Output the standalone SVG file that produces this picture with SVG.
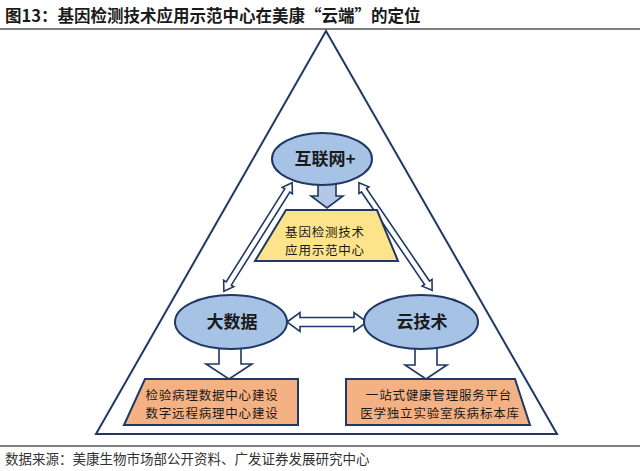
<svg xmlns="http://www.w3.org/2000/svg" width="640" height="471" viewBox="0 0 640 471">
<style>
.ln{stroke:#1f3864;stroke-width:2;fill:none}
.ell{fill:#a6c3e6;stroke:#1f3864;stroke-width:2}
.arw{fill:#ffffff;stroke:#1f3864;stroke-width:1.6;stroke-linejoin:miter}
.t{font-family:"Noto Sans CJK SC","Noto Sans CJK JP",sans-serif;fill:#1a1a1a}
.node{font-size:17px;font-weight:bold;text-anchor:middle}
.box{font-size:12.5px;text-anchor:middle;letter-spacing:0.8px}
</style>
<rect width="640" height="471" fill="#ffffff"/>
<g id="title">
<text class="t" x="5" y="22" font-size="16.5" font-weight="bold">图13：基因检测技术应用示范中心在美康“云端”的定位</text>
<line x1="0" y1="29" x2="640" y2="29" stroke="#7f7f7f" stroke-width="2"/>
</g>
<g id="frame">
<polygon class="ln" points="326,31 96,434 557,434"/>
</g>
<g id="connectors">
<polygon class="arw" style="fill:#b4c7e7" points="318,180 336,180 336,196 343,196 327,208 311,196 318,196"/>
<polygon class="arw" points="219,345 241,345 241,364 252,364 229,379 206,364 219,364"/>
<polygon class="arw" points="415,345 437,345 437,365 447,365 426,379 405,365 415,365"/>
<path class="arw" d="M287,322 L300,312.5 L300,317.5 L354,317.5 L354,312.5 L367,322 L354,331.5 L354,326.5 L300,326.5 L300,331.5 Z"/>
<g transform="translate(258,237) rotate(122.2)">
<path class="arw" d="M-64,0 L-55,-6 L-55,-3 L55,-3 L55,-6 L64,0 L55,6 L55,3 L-55,3 L-55,6 Z"/>
</g>
<g transform="translate(395.5,236.5) rotate(55.7)">
<path class="arw" d="M-65,0 L-56,-6 L-56,-3 L56,-3 L56,-6 L65,0 L56,6 L56,3 L-56,3 L-56,6 Z"/>
</g>
</g>
<g id="internet">
<ellipse class="ell" cx="322" cy="159" rx="50" ry="26"/>
<text class="t node" x="325" y="165">互联网+</text>
</g>
<g id="center">
<polygon points="286,210 377,210 398,261 255,261" fill="#fde38a" stroke="#1f3864" stroke-width="2"/>
<text class="t box" x="325" y="237">基因检测技术</text>
<text class="t box" x="325" y="255">应用示范中心</text>
</g>
<g id="bigdata">
<ellipse class="ell" cx="231" cy="322" rx="56" ry="27"/>
<text class="t node" x="232" y="328">大数据</text>
</g>
<g id="cloud">
<ellipse class="ell" cx="421" cy="322" rx="57" ry="27"/>
<text class="t node" x="422" y="328">云技术</text>
</g>
<g id="box-left">
<polygon points="145,379 298,379 298,425 124,425" fill="#f4b183" stroke="#1f3864" stroke-width="2"/>
<text class="t box" x="212" y="400">检验病理数据中心建设</text>
<text class="t box" x="212" y="418">数字远程病理中心建设</text>
</g>
<g id="box-right">
<polygon points="346,379 515,379 530,425 346,425" fill="#f4b183" stroke="#1f3864" stroke-width="2"/>
<text class="t box" x="439" y="400">一站式健康管理服务平台</text>
<text class="t box" x="440" y="418">医学独立实验室疾病标本库</text>
</g>
<g id="footer">
<line x1="0" y1="446" x2="640" y2="446" stroke="#7f7f7f" stroke-width="2"/>
<text class="t" x="5" y="464" font-size="13.5" style="fill:#333333">数据来源：美康生物市场部公开资料、广发证券发展研究中心</text>
</g>
</svg>
